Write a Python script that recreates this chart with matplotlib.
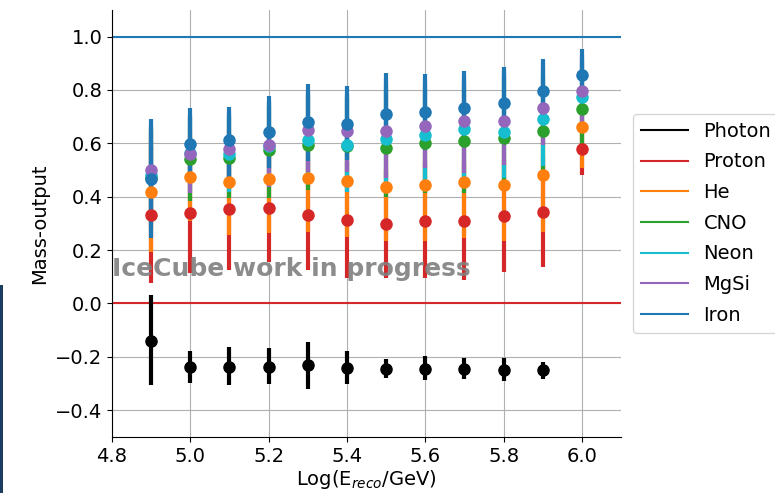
import matplotlib
matplotlib.use("Agg")
import matplotlib.pyplot as plt
from matplotlib.lines import Line2D
from matplotlib.patches import Rectangle

# ── data ─────────────────────────────────────────────────────────────────────
log_e = [4.9, 5.0, 5.1, 5.2, 5.3, 5.4, 5.5, 5.6, 5.7, 5.8, 5.9, 6.0]
log_e_photon = log_e[:11]

photon_val = [-0.141, -0.238, -0.238, -0.238, -0.231, -0.241, -0.246, -0.246, -0.246, -0.250, -0.250]
photon_lo  = [-0.306, -0.298, -0.306, -0.303, -0.319, -0.303, -0.279, -0.288, -0.284, -0.291, -0.284]
photon_hi  = [0.032, -0.179, -0.165, -0.169, -0.146, -0.179, -0.209, -0.198, -0.206, -0.206, -0.219]

proton_val = [0.332, 0.338, 0.354, 0.357, 0.332, 0.313, 0.297, 0.310, 0.310, 0.328, 0.344, 0.579]
proton_lo  = [0.075, 0.113, 0.125, 0.156, 0.125, 0.094, 0.094, 0.094, 0.088, 0.119, 0.138, 0.482]
proton_hi  = [0.59, 0.56, 0.58, 0.56, 0.54, 0.53, 0.50, 0.53, 0.53, 0.54, 0.55, 0.68]

he_val = [0.418, 0.473, 0.454, 0.466, 0.469, 0.457, 0.436, 0.444, 0.454, 0.444, 0.482, 0.661]
he_lo  = [0.194, 0.307, 0.256, 0.263, 0.269, 0.250, 0.232, 0.234, 0.244, 0.232, 0.269, 0.507]
he_hi  = [0.64, 0.64, 0.65, 0.67, 0.67, 0.66, 0.64, 0.65, 0.66, 0.66, 0.70, 0.81]

cno_val = [0.470, 0.541, 0.544, 0.576, 0.594, 0.590, 0.582, 0.600, 0.607, 0.620, 0.647, 0.728]
cno_lo  = [0.280, 0.382, 0.394, 0.394, 0.425, 0.430, 0.400, 0.413, 0.413, 0.444, 0.494, 0.594]
cno_hi  = [0.66, 0.70, 0.70, 0.74, 0.78, 0.77, 0.80, 0.80, 0.82, 0.84, 0.85, 0.90]

neon_val = [0.480, 0.565, 0.559, 0.590, 0.613, 0.594, 0.617, 0.632, 0.653, 0.644, 0.692, 0.772]
neon_lo  = [0.300, 0.425, 0.419, 0.450, 0.450, 0.419, 0.419, 0.450, 0.450, 0.469, 0.513, 0.660]
neon_hi  = [0.65, 0.70, 0.71, 0.75, 0.79, 0.78, 0.82, 0.82, 0.84, 0.86, 0.88, 0.92]

mgsi_val = [0.501, 0.561, 0.579, 0.594, 0.648, 0.645, 0.647, 0.666, 0.685, 0.685, 0.732, 0.795]
mgsi_lo  = [0.320, 0.415, 0.444, 0.438, 0.494, 0.494, 0.469, 0.509, 0.488, 0.520, 0.595, 0.645]
mgsi_hi  = [0.67, 0.71, 0.72, 0.76, 0.80, 0.79, 0.84, 0.84, 0.85, 0.87, 0.90, 0.93]

iron_val = [0.467, 0.598, 0.611, 0.641, 0.680, 0.672, 0.711, 0.717, 0.732, 0.751, 0.797, 0.855]
iron_lo  = [0.244, 0.450, 0.469, 0.507, 0.532, 0.538, 0.563, 0.576, 0.595, 0.620, 0.700, 0.760]
iron_hi  = [0.692, 0.732, 0.735, 0.776, 0.822, 0.813, 0.864, 0.860, 0.870, 0.885, 0.917, 0.955]

species = ["Photon", "Proton", "He", "CNO", "Neon", "MgSi", "Iron"]
colors = ["black", "tab:red", "tab:orange", "tab:green", "tab:cyan", "tab:purple", "tab:blue"]

series = [
    (log_e_photon, photon_val, photon_lo, photon_hi),
    (log_e, proton_val, proton_lo, proton_hi),
    (log_e, he_val, he_lo, he_hi),
    (log_e, cno_val, cno_lo, cno_hi),
    (log_e, neon_val, neon_lo, neon_hi),
    (log_e, mgsi_val, mgsi_lo, mgsi_hi),
    (log_e, iron_val, iron_lo, iron_hi),
]

# ── figure ───────────────────────────────────────────────────────────────────
fig = plt.figure(figsize=(7.75, 4.93), dpi=100)
ax = fig.add_axes([0.1445, 0.114, 0.657, 0.866])

ax.axhline(1.0, color="tab:blue", lw=1.5, zorder=1.5)
ax.axhline(0.0, color="tab:red", lw=1.5, zorder=1.5)

for (xs, val, lo, hi), c in zip(series, colors):
    yerr = [[v - l for v, l in zip(val, lo)], [h - v for v, h in zip(val, hi)]]
    ax.errorbar(xs, val, yerr=yerr, fmt="o", color=c, ms=8, elinewidth=3)

ax.text(4.8, 0.13, "IceCube work in progress", fontsize=18, fontweight="bold",
        color="gray", alpha=0.9, ha="left", va="center", zorder=5)

ax.set_xlim(4.8, 6.1)
ax.set_ylim(-0.5, 1.1)
ax.set_xticks([4.8, 5.0, 5.2, 5.4, 5.6, 5.8, 6.0])
ax.set_yticks([-0.4, -0.2, 0.0, 0.2, 0.4, 0.6, 0.8, 1.0])
ax.tick_params(labelsize=14)
ax.grid(True, color="#b0b0b0", lw=0.8)
ax.set_axisbelow(True)
for s in ["top", "right"]:
    ax.spines[s].set_visible(False)

ax.set_xlabel("Log(E$_{reco}$/GeV)", fontsize=14, labelpad=2)
ax.set_ylabel("Mass-output", fontsize=14)

handles = [Line2D([], [], color=c, lw=1.5) for c in colors]
ax.legend(handles, species, loc="center left", bbox_to_anchor=(1.005, 0.5),
          fontsize=14, handlelength=2.4, labelspacing=0.6)

# screenshot edge strip on the left
fig.add_artist(Rectangle((0, 0), 3 / 775, 208 / 493, transform=fig.transFigure,
                         color="#1d3c60", lw=0))

fig.savefig("out.png", dpi=100)
